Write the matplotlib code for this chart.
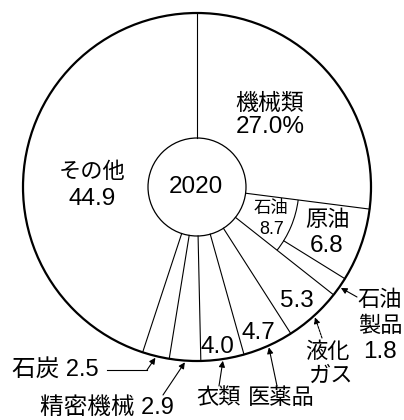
import numpy as np
import matplotlib
matplotlib.use('Agg')
import matplotlib.pyplot as plt
from matplotlib.patches import Circle, Arc

plt.rcParams['font.family'] = ['Liberation Sans', 'Noto Sans CJK JP']

# data (export shares, %)
year = '2020'
labels = ['機械類', '原油', '石油製品', '液化ガス', '医薬品', '衣類', '精密機械', '石炭', 'その他']
values = [27.0, 6.8, 1.8, 5.3, 4.7, 4.0, 2.9, 2.5, 44.9]
oil_label = '石油'
oil_total = 8.7

# geometry in pixels of the 404x420 picture
CX, CY, R = 197, 187, 174
R_IN = 49 / R
R_OIL = 102 / R


def P(x, y):
    """pixel position -> data units (pie radius = 1)"""
    return ((x - CX) / R, (CY - y) / R)


fig = plt.figure(figsize=(4.04, 4.20), dpi=100)
ax = fig.add_axes([0, 0, 1, 1])

ax.pie(values, startangle=90, counterclock=False, radius=1,
       wedgeprops=dict(width=1 - R_IN, facecolor='white', edgecolor='none'))
ax.set_xlim(-CX / R, (404 - CX) / R)
ax.set_ylim((CY - 420) / R, CY / R)
ax.axis('off')

total = sum(values)
cum = np.concatenate([[0], np.cumsum(values)]) / total
theta = np.deg2rad(90 - 360 * cum)   # boundary angles

# outer and inner rings
ax.add_patch(Circle((0, 0), 1, fill=False, ec='black', lw=1.6, zorder=3))
ax.add_patch(Circle((0, 0), R_IN, fill=False, ec='black', lw=0.9, zorder=3))

# radial boundaries (crude/products split only drawn outside the oil arc)
for i, t in enumerate(theta[:-1]):
    r0 = R_OIL if i == 2 else R_IN
    ax.plot([r0 * np.cos(t), np.cos(t)], [r0 * np.sin(t), np.sin(t)],
            color='black', lw=0.8, zorder=2)

# arc grouping crude + products
ax.add_patch(Arc((0, 0), 2 * R_OIL, 2 * R_OIL,
                 theta1=np.rad2deg(theta[3]), theta2=np.rad2deg(theta[1]),
                 color='black', lw=0.8, zorder=2))

num = dict(ha='center', va='center', fontsize=17.5)   # numbers
jp = dict(ha='center', va='center', fontsize=16)      # japanese labels
mix = dict(ha='center', va='center', fontsize=17)

ax.text(*P(196, 187), year, **num)
ax.text(*P(270, 103), labels[0], fontsize=16.5, ha='center', va='center')
ax.text(*P(270, 127), f'{values[0]:.1f}%', **num)
ax.text(*P(92, 172), labels[8], **jp)
ax.text(*P(92, 199), f'{values[8]:.1f}', **num)
ax.text(*P(327, 221), labels[1], **jp)
ax.text(*P(327, 246), f'{values[1]:.1f}', **num)
ax.text(*P(271, 208), oil_label, ha='center', va='center', fontsize=12.5)
ax.text(*P(272, 229), f'{oil_total:.1f}', ha='center', va='center', fontsize=13)
ax.text(*P(297, 301), f'{values[3]:.1f}', **num)
ax.text(*P(258, 333), f'{values[4]:.1f}', **num)
ax.text(*P(217, 347), f'{values[5]:.1f}', **num)

# outside labels
ax.text(*P(380, 300), labels[2][:2], **jp)
ax.text(*P(380, 327), labels[2][2:], **jp)
ax.text(*P(380, 352), f'{values[2]:.1f}', **num)
ax.text(*P(327, 352), labels[3][:2], **jp)
ax.text(*P(330, 376), labels[3][2:], **jp)
ax.text(*P(281, 399), labels[4], **jp)
ax.text(*P(219, 399), labels[5], **jp)
ax.text(*P(107, 408), f'{labels[6]} {values[6]:.1f}', **mix)
ax.text(*P(55, 370), f'{labels[7]} {values[7]:.1f}', **mix)

# arrows to the small slices
mid = np.deg2rad(90 - 360 * (cum[:-1] + cum[1:]) / 2)
starts = {2: (357, 297), 3: (322, 338), 4: (277, 386), 5: (219, 386), 6: (163, 395), 7: (147, 370)}
for i, (sx, sy) in starts.items():
    tip = (1.01 * np.cos(mid[i]), 1.01 * np.sin(mid[i]))
    ls = (0, (2, 1)) if i == 3 else '-'
    ax.annotate('', xy=tip, xytext=P(sx, sy),
                arrowprops=dict(arrowstyle='-|>', color='black', lw=0.8,
                                linestyle=ls, mutation_scale=9,
                                shrinkA=0, shrinkB=0))
# leader for coal
ax.plot(*zip(P(107, 370), P(147, 370)), color='black', lw=0.8)

fig.savefig('out.png', dpi=100, facecolor='white')
